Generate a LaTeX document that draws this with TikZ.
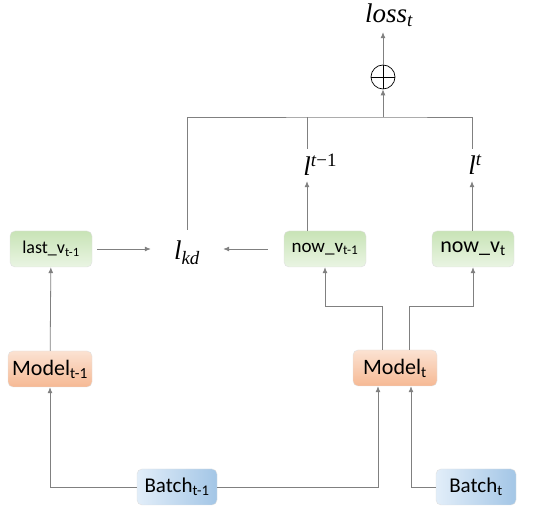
\documentclass[tikz,border=0pt]{standalone}
\usepackage{fontspec}
\setmainfont{Carlito}
\newfontfamily\tms{Liberation Serif}
\usepackage{xcolor}
\usetikzlibrary{shapes.geometric, arrows.meta, positioning}

\definecolor{linegray}{HTML}{808080}
\definecolor{greentop}{HTML}{C8E3B6}
\definecolor{greenbot}{HTML}{EAF5E3}
\definecolor{orangetop}{HTML}{FBE2D2}
\definecolor{orangebot}{HTML}{F6B994}
\definecolor{blueleft}{HTML}{E2EEF9}
\definecolor{blueright}{HTML}{A3C6E6}

\begin{document}
\begin{tikzpicture}[
    x=1pt, y=1pt,
    box/.style={rectangle, draw=black!12, rounded corners=5pt, minimum height=36pt, inner sep=2pt},
    greenbox/.style={box, minimum width=82pt, top color=greentop, bottom color=greenbot, font=\fontsize{18}{20}\selectfont},
    orangebox/.style={box, minimum width=84pt, top color=orangetop, bottom color=orangebot, font=\fontsize{22}{24}\selectfont},
    bluebox/.style={box, minimum width=80pt, left color=blueleft, right color=blueright, font=\fontsize{21}{23}\selectfont},
    mathlabel/.style={inner sep=0pt, font=\tms\itshape\fontsize{27}{29}\selectfont},
    arrow/.style={draw=linegray, line width=0.8pt, -{Latex[length=6pt,width=5pt]}},
    conn/.style={draw=linegray, line width=0.8pt}
]
    \useasboundingbox (0,0) rectangle (550,511);

    % Boxes
    \node (lastv) [greenbox] at (51,262) {last\_v\textsubscript{t-1}};
    \node (nowvp) [greenbox, font=\fontsize{19}{21}\selectfont] at (325,262) {now\_v\textsubscript{t-1}};
    \node (nowvt) [greenbox, font=\fontsize{22}{24}\selectfont] at (473,262) {now\_v\textsubscript{t}};
    \node (modelp) [orangebox] at (50,142) {Model\textsubscript{t-1}};
    \node (modelt) [orangebox] at (395,143) {Model\textsubscript{t}};
    \node (batchp) [bluebox] at (177,24) {Batch\textsubscript{t-1}};
    \node (batcht) [bluebox] at (476,24) {Batch\textsubscript{t}};

    % Loss terms
    \node (lkd) [mathlabel, minimum width=72pt, minimum height=46pt] at (187,258) {l\textsubscript{kd}};
    \node (lp) [mathlabel, minimum height=32pt] at (307,346) {l\rlap{\textsuperscript{t\textup{−1}}}};
    \node (lt) [mathlabel, minimum height=32pt] at (472,346) {l\rlap{\textsuperscript{t}}};
    \node (sum) [circle, draw, line width=0.7pt, minimum size=24pt, inner sep=0pt] at (383,434) {};
    \draw[line width=0.7pt] (sum.north) -- (sum.south) (sum.west) -- (sum.east);
    \node (loss) [mathlabel, minimum height=34pt] at (389,496) {loss\textsubscript{t}};
    \coordinate (bar) at (383,394);

    % Arrows
    \draw [arrow] (batchp.west) -| (modelp.south);
    \draw [arrow] (batchp.east) -| ([xshift=-17pt]modelt.south);
    \draw [arrow] (batcht.west) -| ([xshift=16pt]modelt.south);
    \draw [arrow] (modelp) -- (lastv);
    \draw [arrow] ([xshift=-13pt]modelt.north) -- ++(0,43pt) -| (nowvp.south);
    \draw [arrow] ([xshift=14pt]modelt.north) -- ++(0,43pt) -| (nowvt.south);
    \draw [arrow, shorten <=5pt] (lastv.east) -- (lastv.east -| lkd.west);
    \draw [arrow, shorten <=16pt] (nowvp.west) -- (nowvp.west -| lkd.east);
    \draw [arrow] (nowvp.north -| lp) -- (lp.south);
    \draw [arrow] (nowvt.north -| lt) -- (lt.south);
    \draw [conn] (lkd.north) |- (bar) -| (lt.north);
    \draw [conn] (lp.north) -- (lp.north |- bar);
    \draw [arrow] (bar) -- (sum.south);
    \draw [arrow] (sum.north) -- (sum.north |- loss.south);

\end{tikzpicture}
\end{document}
